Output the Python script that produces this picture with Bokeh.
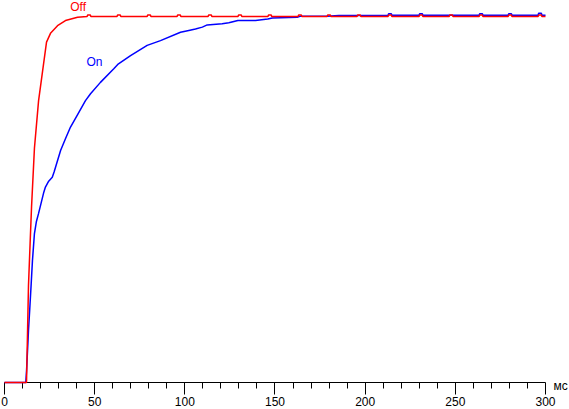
from bokeh.plotting import figure
from bokeh.models import Range1d, Label, FixedTicker
from bokeh.embed import file_html
from bokeh.resources import INLINE

# Time in ms, response level in % (0 = baseline, 100 = plateau)
off_t = [0, 12.2, 12.5, 13.3, 14.2, 15.0, 16.6, 18.9, 21.1, 23.3, 25.5, 29.4, 33.8, 40.5,
         45.8, 46.1, 47.6, 47.9, 62.4, 62.7, 64.2, 64.5, 79.1, 79.4, 80.9, 81.2,
         95.7, 96.0, 97.5, 97.8, 112.9, 113.2, 114.7, 115.0, 129.5, 129.8, 131.3, 131.6,
         146.1, 146.4, 147.9, 148.2, 162.8, 163.1, 164.6, 164.9, 178.9, 179.2, 180.7, 181.0,
         195.5, 195.8, 197.3, 197.6, 212.7, 213.0, 214.5, 214.8, 229.9, 230.2, 231.7, 232.0,
         246.6, 246.9, 248.4, 248.7, 263.2, 263.5, 265.0, 265.3, 279.3, 279.6, 281.1, 281.4,
         295.9, 296.2, 297.7, 298.0, 300]
off_v = [0, 0, 7, 26.5, 38, 48, 64, 77, 85, 93, 95.4, 97.5, 98.9, 99.8,
         100, 100.4, 100.4, 100, 100, 100.4, 100.4, 100, 100, 100.4, 100.4, 100,
         100, 100.4, 100.4, 100, 100, 100.4, 100.4, 100, 100, 100.4, 100.4, 100,
         100, 100.4, 100.4, 100, 100, 100.4, 100.4, 100, 100, 100.4, 100.4, 100,
         100, 100.4, 100.4, 100, 100, 100.4, 100.4, 100, 100, 100.4, 100.4, 100,
         100, 100.4, 100.4, 100, 100, 100.4, 100.4, 100, 100, 100.4, 100.4, 100,
         100, 100.4, 100.4, 100, 100]

on_t = [0, 11.8, 12.2, 12.9, 13.3, 14.0, 14.8, 15.5, 16.6, 17.7, 18.9, 20.4, 21.8, 22.7,
        24.5, 26.5, 27.5, 28.3, 31.1, 33.8, 36.6, 40.3, 44.9, 47.7, 53.2, 60.6, 62.8,
        69.9, 79.1, 86.5, 97.6, 102.2, 105.9, 109.7, 112.4, 120.7, 124.4, 129.4, 139.2,
        146.0, 148.5, 162.3, 164.2, 179.0, 185.4, 195.6,
        212.7, 213.0, 214.5, 214.8, 229.9, 230.2, 231.7, 232.0, 263.2, 263.5, 265.0, 265.3,
        279.3, 279.6, 281.1, 281.4, 295.9, 296.2, 297.7, 298.0, 300]
on_v = [0, 0, 3, 10, 14.2, 20, 27, 33.3, 40.7, 44, 46.2, 49.2, 52, 53.4,
        55, 56.1, 57.5, 58.8, 63.4, 66.6, 69.8, 73.0, 77.0, 78.9, 82.0, 85.7, 86.9,
        89.3, 92.1, 93.4, 95.7, 96.2, 96.6, 97.1, 97.7, 98.0, 98.3, 98.9, 98.9,
        99.3, 99.6, 99.8, 100.1, 100.1, 100.3, 100.3,
        100.35, 100.75, 100.75, 100.35, 100.35, 100.75, 100.75, 100.35, 100.35, 100.75, 100.75, 100.35,
        100.35, 100.75, 100.75, 100.35, 100.35, 100.9, 100.9, 100.35, 100.35]

x_ticks = [0, 50, 100, 150, 200, 250, 300]
x_minor_ticks = [10, 20, 30, 40, 60, 70, 80, 90, 110, 120, 130, 140, 160, 170, 180, 190,
                 210, 220, 230, 240, 260, 270, 280, 290]
series_labels = ["Off", "On"]
unit_label = "мс"

FONT = "Liberation Sans"

p = figure(width=569, height=409,
           min_border_left=0, min_border_right=0, min_border_top=0, min_border_bottom=0,
           x_range=Range1d(-2.218, 313.31), y_range=Range1d(-7.377, 104.37),
           y_axis_location=None, output_backend="svg", toolbar_location=None)
p.grid.visible = False
p.outline_line_color = None
p.background_fill_color = "white"
p.border_fill_color = "white"

ax = p.xaxis[0]
ax.fixed_location = 0
ax.bounds = (0, 300)
ax.ticker = FixedTicker(ticks=x_ticks, minor_ticks=x_minor_ticks)
ax.major_tick_out = 12
ax.major_tick_in = 0
ax.minor_tick_out = 6
ax.minor_tick_in = 0
ax.axis_line_color = "black"
ax.major_tick_line_color = "black"
ax.minor_tick_line_color = "black"
ax.major_label_text_font = FONT
ax.major_label_text_font_size = "12px"
ax.major_label_text_color = "black"
ax.major_label_standoff = 3

r_on = p.line(on_t, on_v, line_color="#0000FF", line_width=1.5)
r_off = p.line(off_t, off_v, line_color="#FF0000", line_width=1.5)
r_on.level = "overlay"
r_off.level = "overlay"

p.add_layout(Label(x=40.8, y=102.7, text=series_labels[0], text_color="#FF0000",
                   text_font=FONT, text_font_size="12px", text_align="center",
                   text_baseline="alphabetic"))
p.add_layout(Label(x=49.9, y=87.7, text=series_labels[1], text_color="#0000FF",
                   text_font=FONT, text_font_size="12px", text_align="center",
                   text_baseline="alphabetic"))
p.add_layout(Label(x=304.4, y=-0.9, text=unit_label, text_color="black",
                   text_font=FONT, text_font_size="12px", text_align="left",
                   text_baseline="alphabetic"))

open("out.html", "w").write(file_html(p, INLINE))
